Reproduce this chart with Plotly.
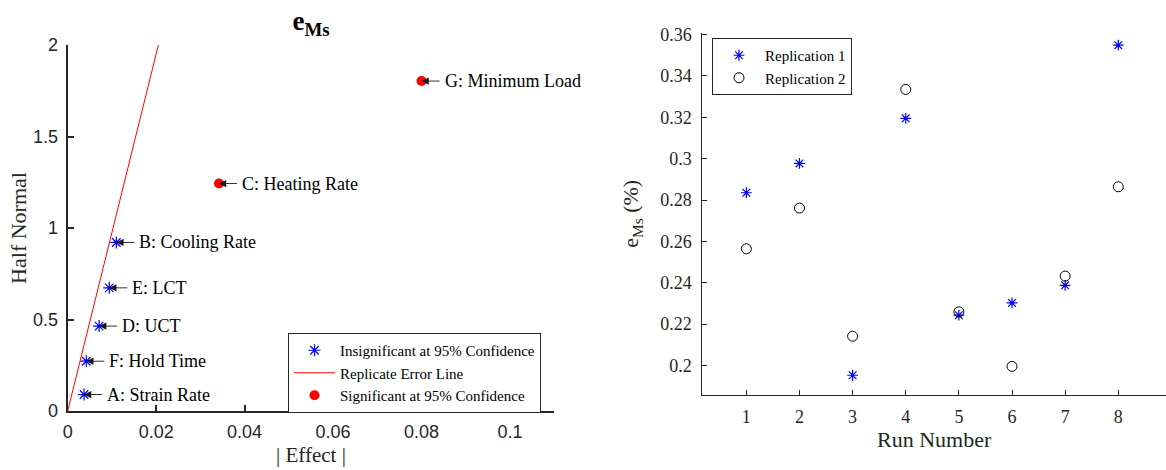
import plotly.graph_objects as go

# ---- Left chart data (half-normal plot of effects) ----
effect_labels = ["A: Strain Rate", "F: Hold Time", "D: UCT", "E: LCT",
                 "B: Cooling Rate", "C: Heating Rate", "G: Minimum Load"]
effect_abs = [0.0037, 0.0042, 0.0071, 0.0094, 0.0110, 0.0342, 0.0800]
half_normal = [0.090, 0.272, 0.464, 0.673, 0.921, 1.243, 1.803]
significant = [False, False, False, False, False, True, True]
error_line_x = [0.0, 0.0205]
error_line_y = [0.0, 2.0]

# ---- Right chart data ----
run_number = [1, 2, 3, 4, 5, 6, 7, 8]
replication1 = [0.2835, 0.2977, 0.1952, 0.3195, 0.2243, 0.2302, 0.2387, 0.3549]
replication2 = [0.2564, 0.2761, 0.2141, 0.3335, 0.2259, 0.1995, 0.2432, 0.2864]
right_yticks = [0.2, 0.22, 0.24, 0.26, 0.28, 0.3, 0.32, 0.34, 0.36]
right_yticktext = ["0.2", "0.22", "0.24", "0.26", "0.28", "0.3", "0.32", "0.34", "0.36"]

SERIF = "Liberation Serif, Times New Roman, serif"
SANS = "Liberation Sans, Arial, sans-serif"
AX = "#262626"
W, H = 1166, 470

fig = go.Figure()

ins_x = [x for x, s in zip(effect_abs, significant) if not s]
ins_y = [y for y, s in zip(half_normal, significant) if not s]
sig_x = [x for x, s in zip(effect_abs, significant) if s]
sig_y = [y for y, s in zip(half_normal, significant) if s]

fig.add_trace(go.Scatter(x=ins_x, y=ins_y, mode="markers", name="Insignificant at 95% Confidence",
                         marker=dict(symbol="asterisk-open", size=10, color="blue",
                                     line=dict(color="blue", width=1.2)),
                         xaxis="x", yaxis="y", legend="legend"))
fig.add_trace(go.Scatter(x=error_line_x, y=error_line_y, mode="lines", name="Replicate Error Line",
                         line=dict(color="red", width=1), xaxis="x", yaxis="y", legend="legend"))
fig.add_trace(go.Scatter(x=sig_x, y=sig_y, mode="markers", name="Significant at 95% Confidence",
                         marker=dict(symbol="circle", size=10, color="red"),
                         xaxis="x", yaxis="y", legend="legend"))

fig.add_trace(go.Scatter(x=run_number, y=replication1, mode="markers", name="Replication 1",
                         marker=dict(symbol="asterisk-open", size=9, color="blue",
                                     line=dict(color="blue", width=1.2)),
                         xaxis="x2", yaxis="y2", legend="legend2"))
fig.add_trace(go.Scatter(x=run_number, y=replication2, mode="markers", name="Replication 2",
                         marker=dict(symbol="circle-open", size=10, color="black",
                                     line=dict(color="black", width=1)),
                         xaxis="x2", yaxis="y2", legend="legend2"))

for lab, x, y in zip(effect_labels, effect_abs, half_normal):
    fig.add_annotation(x=x, y=y, xref="x", yref="y", text=lab,
                       showarrow=True, ax=21, ay=0, axref="pixel", ayref="pixel",
                       arrowhead=2, arrowsize=1.6, arrowwidth=0.9, arrowcolor="#1a1a1a",
                       standoff=0, startstandoff=3,
                       xanchor="left", yanchor="middle",
                       font=dict(family=SERIF, size=18, color="black"))

fig.update_layout(
    width=W, height=H,
    margin=dict(l=0, r=0, t=0, b=0, autoexpand=False),
    paper_bgcolor="white", plot_bgcolor="white",
    title=dict(text="<b>e<sub>Ms</sub></b>", x=311 / W, y=1 - 21 / H, xanchor="center", yanchor="middle",
               xref="paper", yref="paper", automargin=False,
               font=dict(family=SERIF, size=27, color="black")),
    xaxis=dict(domain=[67.7 / W, 554.2 / W], range=[0, 0.11], dtick=0.02, tick0=0,
               showgrid=False, zeroline=False, showline=True, linecolor=AX, linewidth=2,
               ticks="inside", ticklen=6, tickwidth=1.5, tickcolor=AX, automargin=False,
               tickfont=dict(family=SANS, size=18, color=AX), ticklabelstandoff=3,
               title=dict(text="| Effect |", font=dict(family=SERIF, size=21, color=AX), standoff=7),
               anchor="y"),
    yaxis=dict(domain=[1 - 411 / H, 1 - 45 / H], range=[0, 2], tickvals=[0, 0.5, 1, 1.5, 2],
               showgrid=False, zeroline=False, showline=True, linecolor=AX, linewidth=2,
               ticks="inside", ticklen=6, tickwidth=1.5, tickcolor=AX, automargin=False,
               tickfont=dict(family=SANS, size=18, color=AX), ticklabelstandoff=4,
               title=dict(text="Half Normal", font=dict(family=SERIF, size=22, color=AX), standoff=0),
               anchor="x"),
    xaxis2=dict(domain=[702.3 / W, 1.0], range=[0.171, 8.898], tickvals=run_number,
                showgrid=False, zeroline=False, showline=True, linecolor=AX, linewidth=1,
                ticks="inside", ticklen=5, tickwidth=1, tickcolor=AX, automargin=False,
                tickfont=dict(family=SERIF, size=18, color=AX), ticklabelstandoff=6,
                title=dict(text="Run Number", font=dict(family=SERIF, size=22, color=AX), standoff=5),
                anchor="y2"),
    yaxis2=dict(domain=[1 - 394.7 / H, 1 - 33 / H], range=[0.1858, 0.3608], tickvals=right_yticks,
                ticktext=right_yticktext,
                showgrid=False, zeroline=False, showline=True, linecolor=AX, linewidth=1,
                ticks="inside", ticklen=5, tickwidth=1, tickcolor=AX, automargin=False,
                tickfont=dict(family=SERIF, size=18, color=AX), ticklabelstandoff=6,
                title=dict(text="e<sub>Ms</sub> (%)", font=dict(family=SERIF, size=22, color=AX), standoff=15),
                anchor="x2"),
    legend=dict(x=288 / W, y=1 - 333 / H, xanchor="left", yanchor="top",
                bgcolor="white", bordercolor=AX, borderwidth=1,
                font=dict(family=SERIF, size=15, color="black"),
                itemwidth=41, tracegroupgap=0, itemclick=False),
    legend2=dict(x=712 / W, y=1 - 38 / H, xanchor="left", yanchor="top",
                 bgcolor="white", bordercolor=AX, borderwidth=1,
                 font=dict(family=SERIF, size=15, color="black"),
                 itemwidth=42, tracegroupgap=0, itemclick=False),
    showlegend=True,
)

fig.write_html("out.html")
